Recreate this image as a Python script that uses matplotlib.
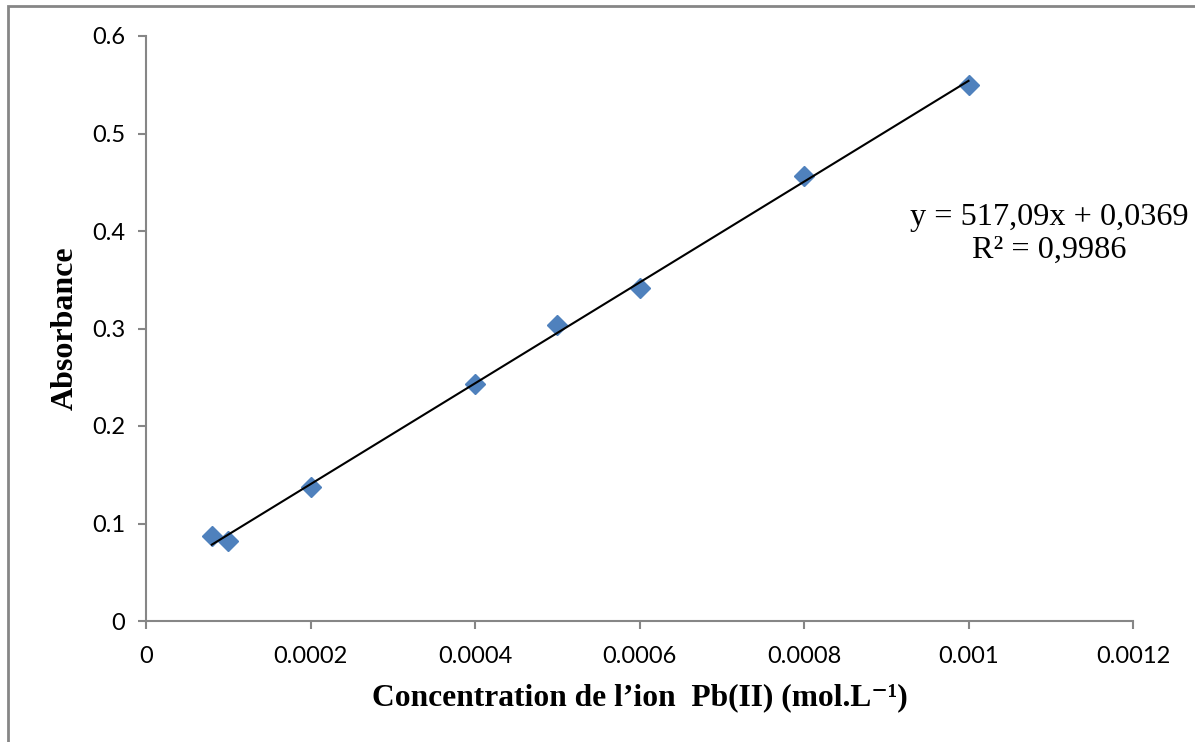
import numpy as np
import matplotlib
matplotlib.use('Agg')
from matplotlib import pyplot as plt
from matplotlib.patches import Rectangle

# Données de la courbe d'étalonnage Pb(II)
concentration = [0.00008, 0.0001, 0.0002, 0.0004, 0.0005, 0.0006, 0.0008, 0.001]
absorbance = [0.087, 0.082, 0.137, 0.243, 0.304, 0.342, 0.456, 0.550]

# droite de tendance (affichée sur le graphique)
pente = 517.09
ordonnee = 0.0369
r2 = 0.9986

x_ticks = [0, 0.0002, 0.0004, 0.0006, 0.0008, 0.001, 0.0012]
x_ticklabels = ['0', '0.0002', '0.0004', '0.0006', '0.0008', '0.001', '0.0012']
y_ticks = [0, 0.1, 0.2, 0.3, 0.4, 0.5, 0.6]
y_ticklabels = ['0', '0.1', '0.2', '0.3', '0.4', '0.5', '0.6']

fig = plt.figure(figsize=(11.95, 7.42), dpi=100)
ax = fig.add_axes([146/1195, 1-621/742, (1133-146)/1195, (621-36)/742])

# cadre extérieur du graphique
fig.patches.append(Rectangle((7.5/1195, -0.1), 1.2, 1 - 5.5/742 + 0.1, transform=fig.transFigure,
                             fill=False, edgecolor='#868686', linewidth=2))

x_line = np.array([min(concentration), max(concentration)])
ax.plot(x_line, pente * x_line + ordonnee, color='black', linewidth=1.5, zorder=3)
ax.plot(concentration, absorbance, linestyle='none', marker='D', markersize=10,
        color='#4F81BD', markeredgecolor='#4F81BD', zorder=2)

ax.set_xlim(0, 0.0012)
ax.set_ylim(0, 0.6)
ax.set_xticks(x_ticks)
ax.set_xticklabels(x_ticklabels, fontsize=17, family='Lato')
ax.set_yticks(y_ticks)
ax.set_yticklabels(y_ticklabels, fontsize=17, family='Lato')
ax.tick_params(axis='x', direction='out', length=6, width=1.5, color='#868686', pad=12)
ax.tick_params(axis='y', direction='out', length=6, width=1.5, color='#868686', pad=9)

for s in ['top', 'right']:
    ax.spines[s].set_visible(False)
for s in ['left', 'bottom']:
    ax.spines[s].set_color('#868686')
    ax.spines[s].set_linewidth(1.5)

ax.set_xlabel("Concentration de l’ion  Pb(II) (mol.L⁻¹)", fontsize=22.7,
              family=['Liberation Serif', 'DejaVu Serif'], fontweight='bold', labelpad=12)
ax.set_ylabel('Absorbance', fontsize=23, family='Liberation Serif', fontweight='bold', labelpad=9)

eq = 'y = %sx + %s' % (str(pente).replace('.', ','), str(ordonnee).replace('.', ','))
ax.text(0.001098, 0.397, eq + '\nR² = ' + str(r2).replace('.', ','), fontsize=23.2,
        family='Liberation Serif', ha='center', va='center', linespacing=1.2)

fig.savefig('out.png', dpi=100)
